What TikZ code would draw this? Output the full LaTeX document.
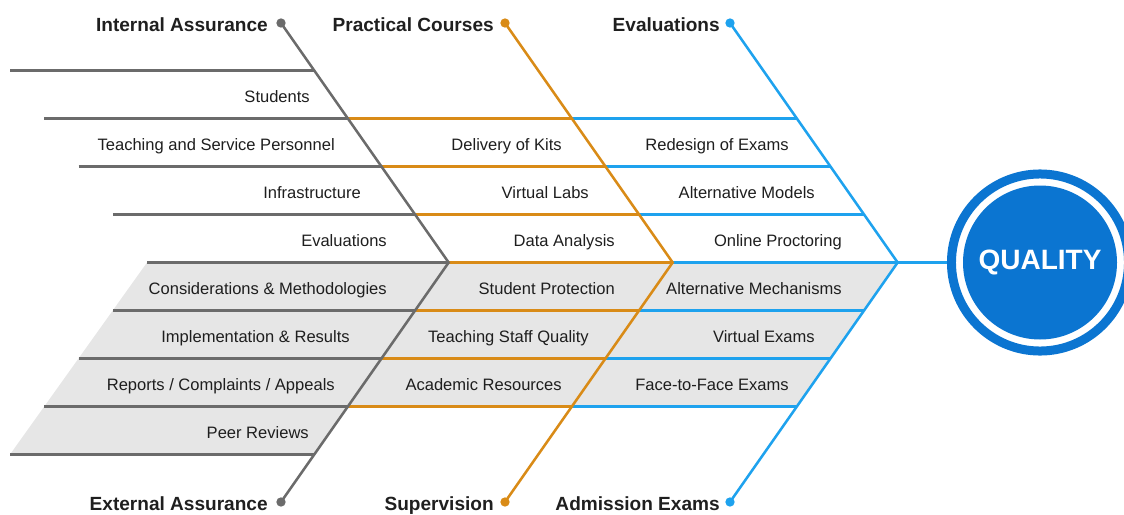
\documentclass[tikz,border=0pt]{standalone}
\usepackage{fontspec}
\setmainfont{Liberation Sans}
\usetikzlibrary{positioning}
\definecolor{boneGray}{HTML}{6B6B6B}
\definecolor{boneOrange}{HTML}{D98B17}
\definecolor{boneBlue}{HTML}{1EA2EE}
\definecolor{qualBlue}{HTML}{0B75D1}
\definecolor{rowFill}{HTML}{E6E6E6}
\definecolor{txt}{HTML}{1E1E1E}

\begin{document}
\begin{tikzpicture}[
		  x=0.75pt, y=-0.75pt,
		  bone/.style={line width=1.9pt},
		  lbl/.style={anchor=base east, inner sep=0pt, text=txt, font=\fontsize{12.4}{14}\selectfont},
		  head/.style={anchor=base east, inner sep=0pt, text=black!88, font=\fontsize{14.3}{17}\selectfont\bfseries},
		  dot/.style={circle, fill, inner sep=0pt, minimum size=7pt}
		]
		\useasboundingbox (0,0) rectangle (1124,514);
		
		% shaded lower half
		\fill[rowFill] (147,262.5) -- (897.65,262.5) -- (796.85,406.5) -- (347.85,406.5)
		  -- (314.25,454.5) -- (10,454.5) -- cycle;
		
		% ribs
		\foreach \j in {-3,...,3} {
		  \pgfmathsetmacro\s{167.65-33.6*abs(\j)}
		  \pgfmathsetmacro\l{147-34.25*abs(\j)}
		  \pgfmathsetmacro\yy{262.5+48*\j}
		  \draw[bone, boneGray] (\l,\yy) -- (281+\s,\yy);
		  \draw[bone, boneOrange] (281+\s,\yy) -- (505+\s,\yy);
		  \draw[bone, boneBlue] (505+\s,\yy) -- (730+\s,\yy);
		}
		\draw[bone, boneGray] (10,70.5) -- (314.25,70.5);
		\draw[bone, boneGray] (10,454.5) -- (314.25,454.5);
		
		% spines
		\node[dot, boneGray] (g_top) at (281,23) {};
		\node[dot, boneGray] (g_bot) at (281,502) {};
		\node[dot, boneOrange] (o_top) at (505,23) {};
		\node[dot, boneOrange] (o_bot) at (505,502) {};
		\node[dot, boneBlue] (b_top) at (730,23) {};
		\node[dot, boneBlue] (b_bot) at (730,502) {};
		\coordinate (g_apex) at (448.65,262.5);
		\coordinate (o_apex) at (672.65,262.5);
		\coordinate (b_apex) at (897.65,262.5);
		
		\draw[bone, boneGray] (g_top.center) -- (g_apex) -- (g_bot.center);
		\draw[bone, boneOrange] (o_top.center) -- (o_apex) -- (o_bot.center);
		\draw[bone, boneBlue] (b_top.center) -- (b_apex) -- (b_bot.center);
		
		% head
		\node[circle, fill=qualBlue, minimum size=115.5pt, inner sep=0pt, text=white,
		  font=\fontsize{21}{24}\selectfont\bfseries] (quality) at (1040,262.5) {QUALITY};
		\draw[qualBlue, line width=6.75pt] (quality.center) circle (66.4pt);
		\draw[bone, boneBlue, shorten >=12pt] (b_apex) -- (quality);
		
		% categories
		\node[head] (h_int) at (268,31.5) {Internal Assurance};
		\node[head] (h_prac) at (494,31.5) {Practical Courses};
		\node[head] (h_eval) at (720,31.5) {Evaluations};
		\node[head] (h_ext) at (268,510) {External Assurance};
		\node[head] (h_sup) at (494,510) {Supervision};
		\node[head] (h_adm) at (720,510) {Admission Exams};
		
		% causes
		\node[lbl] (g1) at (310,102.3) {Students};
		\node[lbl] (g2) at (335,150.3) {Teaching and Service Personnel};
		\node[lbl] (g3) at (361,198.3) {Infrastructure};
		\node[lbl] (g4) at (387,246.3) {Evaluations};
		\node[lbl] (g5) at (387,294.3) {Considerations \& Methodologies};
		\node[lbl] (g6) at (350,342.3) {Implementation \& Results};
		\node[lbl] (g7) at (335,390.3) {Reports / Complaints / Appeals};
		\node[lbl] (g8) at (309,438.3) {Peer Reviews};
		
		\node[lbl] (o2) at (562,150.3) {Delivery of Kits};
		\node[lbl] (o3) at (589,198.3) {Virtual Labs};
		\node[lbl] (o4) at (615,246.3) {Data Analysis};
		\node[lbl] (o5) at (615,294.3) {Student Protection};
		\node[lbl] (o6) at (589,342.3) {Teaching Staff Quality};
		\node[lbl] (o7) at (562,390.3) {Academic Resources};
		
		\node[lbl] (b2) at (789,150.3) {Redesign of Exams};
		\node[lbl] (b3) at (815,198.3) {Alternative Models};
		\node[lbl] (b4) at (842,246.3) {Online Proctoring};
		\node[lbl] (b5) at (842,294.3) {Alternative Mechanisms};
		\node[lbl] (b6) at (815,342.3) {Virtual Exams};
		\node[lbl] (b7) at (789,390.3) {Face-to-Face Exams};
		\end{tikzpicture}
\end{document}
